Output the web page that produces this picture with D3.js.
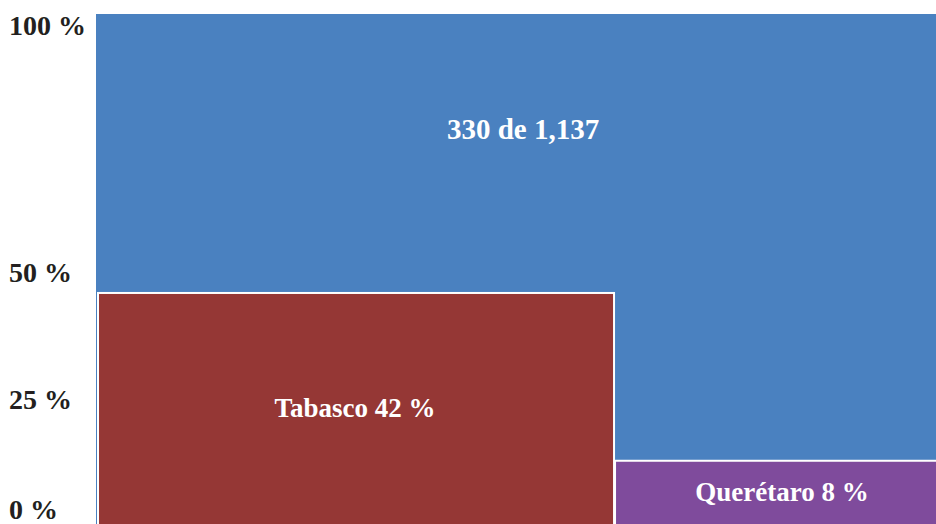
<!DOCTYPE html>
<html>
<head>
<meta charset="utf-8">
<script src="https://cdn.jsdelivr.net/npm/d3@7"></script>
<style>
    html, body { margin: 0; padding: 0; background: #ffffff; }
    svg { display: block; }
</style>
</head>
<body>
<svg id="chart" width="936" height="524"></svg>
<script>
// Blocks of the chart (outer total, then the two states)
const labels = ["330 de 1,137", "Tabasco 42 %", "Querétaro 8 %"];
const shareStart = [0, 0, 0.6066];
const shareEnd = [1, 0.6066, 1];
const heightPct = [100, 45.3, 12.4];
const colors = ["#4a81c0", "#953735", "#7f4b9c"];

// Axis ticks
const tickValues = [0, 25, 50, 100];
const tickLabels = ["0 %", "25 %", "50 %", "100 %"];

const svg = d3.select("#chart");
const fontFamily = "'Liberation Serif', 'Times New Roman', serif";

// Scales (the plot runs past the right edge of the picture)
const x = d3.scaleLinear().domain([0, 1]).range([96, 950]);
const y = d3.scaleLinear().domain([0, 100]).range([524, 14]);

// Rectangles
const blocks = labels.map((d, i) => ({
    label: d,
    x0: shareStart[i],
    x1: shareEnd[i],
    h: heightPct[i],
    color: colors[i],
    inner: i > 0
}));

const g = svg.append("g");

g.selectAll("rect")
    .data(blocks)
    .join("rect")
    .attr("x", d => d.inner ? x(d.x0) + (d.x0 === 0 ? 2 : 1) : x(d.x0))
    .attr("y", d => y(d.h))
    .attr("width", d => x(d.x1) - x(d.x0) - (d.inner ? (d.x0 === 0 ? 2 : 1) : 0))
    .attr("height", d => y(0) - y(d.h) + 10)
    .attr("fill", d => d.color)
    .attr("stroke", d => d.inner ? "#ffffff" : "none")
    .attr("stroke-width", 2);

// Block labels
g.selectAll("text.block-label")
    .data(blocks)
    .join("text")
    .attr("class", "block-label")
    .attr("x", d => (x(d.x0) + x(d.x1)) / 2)
    .attr("y", d => d.inner ? (y(d.h) + y(0)) / 2 : y(77.5))
    .attr("text-anchor", "middle")
    .attr("dominant-baseline", "central")
    .attr("fill", "#ffffff")
    .attr("font-family", fontFamily)
    .attr("font-weight", "bold")
    .attr("font-size", d => d.inner ? "27px" : "29px")
    .text(d => d.label);

// Y axis labels
svg.append("g")
    .selectAll("text")
    .data(tickValues)
    .join("text")
    .attr("x", 9)
    .attr("y", d => Math.max(y(100) + 11, Math.min(y(0) - 15, y(d) + 3)))
    .attr("dominant-baseline", "central")
    .attr("fill", "#231f20")
    .attr("font-family", fontFamily)
    .attr("font-weight", "bold")
    .attr("font-size", "28px")
    .text((d, i) => tickLabels[i]);
</script>
</body>
</html>
